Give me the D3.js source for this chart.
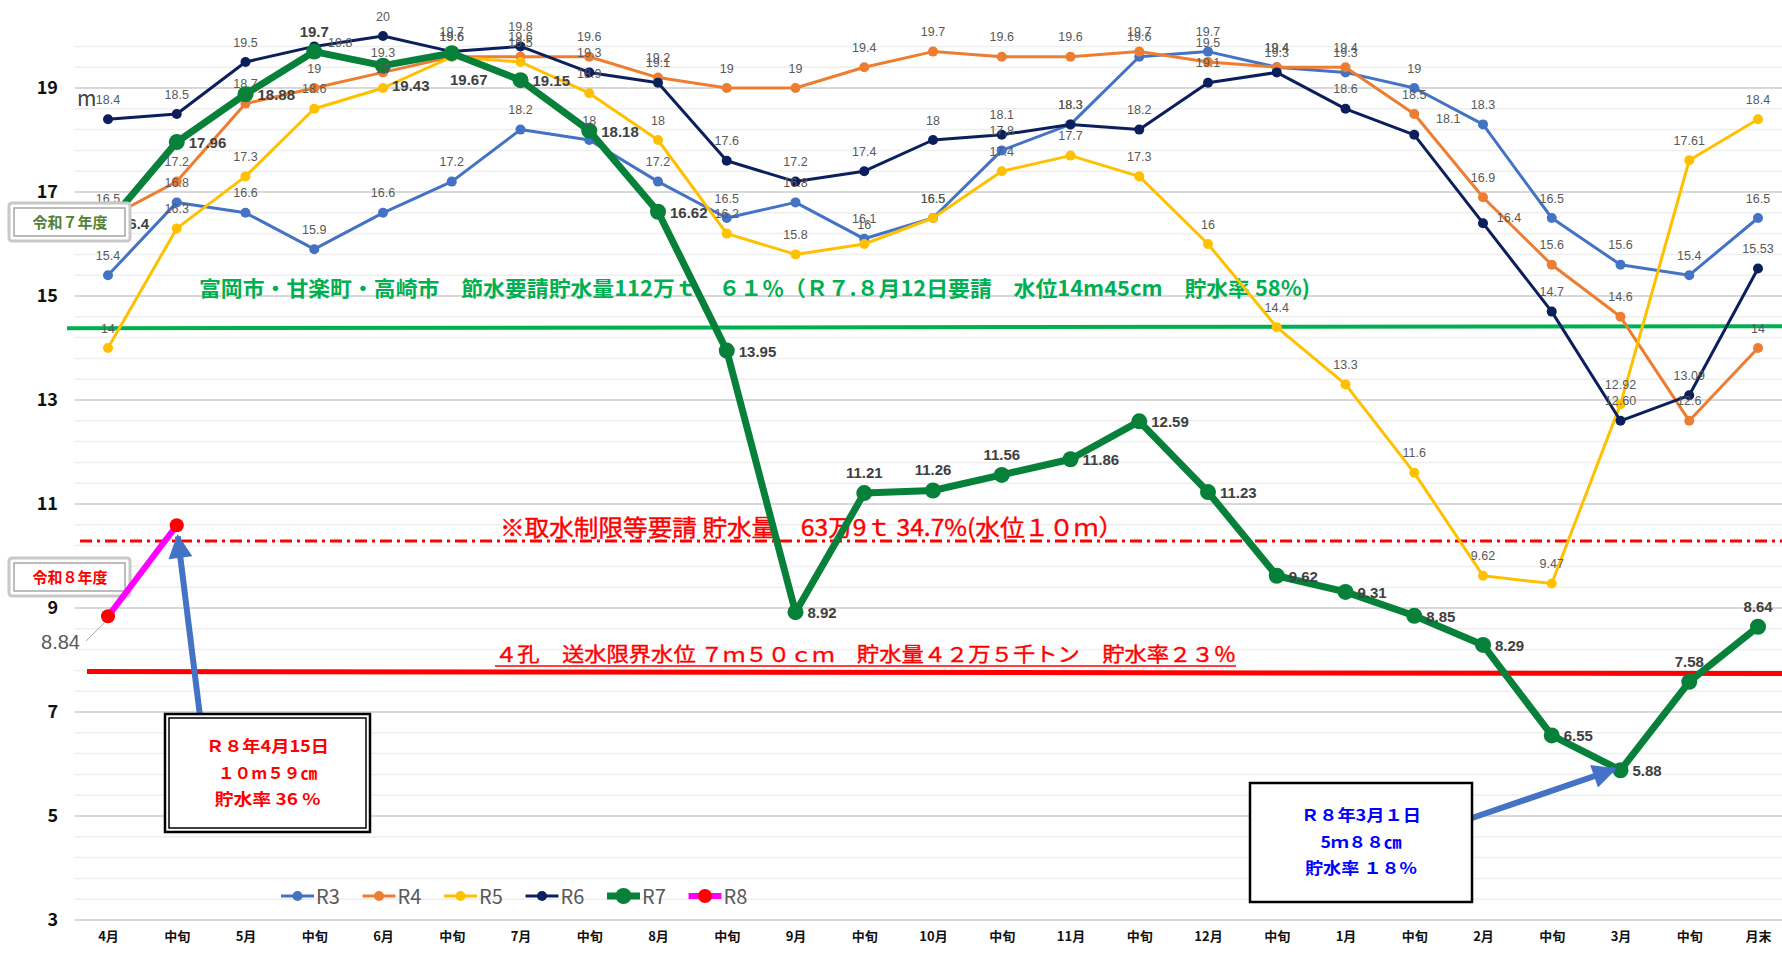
<!DOCTYPE html>
<html>
<head>
<meta charset="utf-8">
<script src="https://cdn.jsdelivr.net/npm/d3@7"></script>
<style>
  body { margin: 0; background: #fff; }
  svg { display: block; font-family: "Noto Sans CJK JP", "Noto Sans", sans-serif; }
</style>
</head>
<body>
<div id="chart"></div>
<script>
// 区分（旬ごと）
const periods = ["4月","中旬","5月","中旬","6月","中旬","7月","中旬","8月","中旬","9月","中旬",
                 "10月","中旬","11月","中旬","12月","中旬","1月","中旬","2月","中旬","3月","中旬","月末"];

// 水位 (m)
const r3 = [15.4,16.8,16.6,15.9,16.6,17.2,18.2,18,17.2,16.5,16.8,16.1,16.5,17.8,18.3,19.6,19.7,19.4,19.3,19,18.3,16.5,15.6,15.4,16.5];
const r4 = [16.5,17.2,18.7,19,19.3,19.6,19.6,19.6,19.2,19,19,19.4,19.7,19.6,19.6,19.7,19.5,19.4,19.4,18.5,16.9,15.6,14.6,12.6,14];
const r5 = [14,16.3,17.3,18.6,19,19.6,19.5,18.9,18,16.2,15.8,16,16.5,17.4,17.7,17.3,16,14.4,13.3,11.6,9.62,9.47,12.92,17.61,18.4];
const r6 = [18.4,18.5,19.5,19.8,20,19.7,19.8,19.3,19.1,17.6,17.2,17.4,18,18.1,18.3,18.2,19.1,19.3,18.6,18.1,16.4,14.7,12.6,13.09,15.53];
const r7 = [16.4,17.96,18.88,19.7,19.43,19.67,19.15,18.18,16.62,13.95,8.92,11.21,11.26,11.56,11.86,12.59,11.23,9.62,9.31,8.85,8.29,6.55,5.88,7.58,8.64];
const r8 = [8.84,10.59];

const r7LabelSide = ["r","r","r","t","rb","b","r","r","r","r","r","t","t","t","r","r","r","r","r","r","r","r","r","t","t"];

const yTicks = [3,5,7,9,11,13,15,17,19];

const width = 1782, height = 956;

const svg = d3.select("#chart").append("svg")
    .attr("width", width).attr("height", height);

const x = d3.scaleLinear().domain([0, periods.length - 1]).range([108, 1758]);
const y = d3.scaleLinear().domain([3, 20]).range([920, 36]);

// grid
const minor = d3.range(3, 19.85, 0.4);
svg.append("g").selectAll("line").data(minor).enter().append("line")
    .attr("x1", 75).attr("x2", width)
    .attr("y1", d => y(d)).attr("y2", d => y(d))
    .attr("stroke", "#eeeeee").attr("stroke-width", 1.5);
svg.append("g").selectAll("line").data(yTicks).enter().append("line")
    .attr("x1", 75).attr("x2", width)
    .attr("y1", d => y(d)).attr("y2", d => y(d))
    .attr("stroke", "#d9d9d9").attr("stroke-width", 2);

// axes
const yAxis = svg.append("g").attr("transform", "translate(58,0)")
    .call(d3.axisLeft(y).tickValues(yTicks).tickSize(0).tickPadding(0).tickFormat(d3.format("d")));
yAxis.select(".domain").remove();
yAxis.selectAll("text")
    .style("font-family", "'Noto Sans CJK JP', sans-serif")
    .style("font-size", "18px").style("font-weight", "bold").attr("fill", "#111");

const xAxis = svg.append("g").attr("transform", "translate(0,932)")
    .call(d3.axisBottom(x).tickValues(d3.range(periods.length)).tickSize(0).tickPadding(0)
        .tickFormat(i => periods[i]));
xAxis.select(".domain").remove();
xAxis.selectAll("text")
    .style("font-family", "'Noto Sans CJK JP', sans-serif")
    .style("font-size", "13px").style("font-weight", "bold").attr("fill", "#111");

svg.append("text").attr("x", 77).attr("y", 106).attr("fill", "#404040")
    .style("font-size", "21px").text("m");

// 基準線
svg.append("line").attr("x1", 67).attr("x2", width)
    .attr("y1", y(14.38)).attr("y2", y(14.42))
    .attr("stroke", "#00b050").attr("stroke-width", 4);
svg.append("text").attr("x", 199).attr("y", 296)
    .attr("fill", "#00b050").style("font-size", "21px").style("font-weight", "bold")
    .attr("textLength", 1111).attr("lengthAdjust", "spacingAndGlyphs")
    .text("富岡市・甘楽町・高崎市　節水要請貯水量112万ｔ　６１％（Ｒ７.８月12日要請　水位14m45cm　貯水率 58%)");

svg.append("line").attr("x1", 80).attr("x2", width)
    .attr("y1", y(10.29)).attr("y2", y(10.29))
    .attr("stroke", "#ff0000").attr("stroke-width", 3)
    .attr("stroke-dasharray", "12,5,3,5");
svg.append("text").attr("x", 500).attr("y", 536)
    .attr("fill", "#ff0000").style("font-size", "23px")
    .attr("stroke", "#ff0000").attr("stroke-width", 0.4)
    .attr("textLength", 623).attr("lengthAdjust", "spacingAndGlyphs")
    .text("※取水制限等要請 貯水量　63万9ｔ 34.7%(水位１０ｍ）");

svg.append("line").attr("x1", 87).attr("x2", width)
    .attr("y1", y(7.78)).attr("y2", y(7.74))
    .attr("stroke", "#ff0000").attr("stroke-width", 5);
svg.append("text").attr("x", 495).attr("y", 662)
    .attr("fill", "#ff0000").style("font-size", "20px")
    .attr("stroke", "#ff0000").attr("stroke-width", 0.4)
    .attr("textLength", 741).attr("lengthAdjust", "spacingAndGlyphs")
    .text("４孔　送水限界水位 ７ｍ５０ｃｍ　貯水量４２万５千トン　貯水率２３％");
svg.append("line").attr("x1", 495).attr("x2", 1236).attr("y1", 666).attr("y2", 666)
    .attr("stroke", "#ff0000").attr("stroke-width", 1.5);

// series
const series = [
  {name: "R3", values: r3, color: "#4472c4", w: 3, r: 5},
  {name: "R4", values: r4, color: "#ed7d31", w: 3, r: 5},
  {name: "R5", values: r5, color: "#ffc000", w: 3, r: 5},
  {name: "R6", values: r6, color: "#0b1f5c", w: 3, r: 5},
  {name: "R7", values: r7, color: "#07803a", w: 7, r: 8},
  {name: "R8", values: r8, color: "#ff00ff", w: 6, r: 7, dot: "#ff0000"}
];

const line = d3.line().x((d, i) => x(i)).y(d => y(d));

// 令和７年度 / 令和８年度 boxes
function yearBox(top, label, color) {
  const g = svg.append("g");
  g.append("rect").attr("x", 9).attr("y", top).attr("width", 121).attr("height", 38)
    .attr("rx", 3).attr("fill", "#fff").attr("stroke", "#c8c8c8").attr("stroke-width", 3);
  g.append("rect").attr("x", 14).attr("y", top + 5).attr("width", 111).attr("height", 28)
    .attr("fill", "none").attr("stroke", "#a6a6a6").attr("stroke-width", 1.5);
  g.append("text").attr("x", 70).attr("y", top + 25).attr("text-anchor", "middle")
    .attr("fill", color).style("font-size", "15px").style("font-weight", "bold").text(label);
}

series.slice(0, 4).forEach(s => {
  svg.append("path").datum(s.values).attr("d", line)
    .attr("fill", "none").attr("stroke", s.color).attr("stroke-width", s.w)
    .attr("stroke-linejoin", "round");
  svg.append("g").selectAll("circle").data(s.values).enter().append("circle")
    .attr("cx", (d, i) => x(i)).attr("cy", d => y(d)).attr("r", s.r).attr("fill", s.color);
});

const s7 = series[4];
svg.append("path").datum(r7).attr("d", line)
  .attr("fill", "none").attr("stroke", s7.color).attr("stroke-width", s7.w)
  .attr("stroke-linejoin", "round");
svg.append("g").selectAll("circle").data(r7).enter().append("circle")
  .attr("cx", (d, i) => x(i)).attr("cy", d => y(d)).attr("r", s7.r).attr("fill", s7.color);

// data labels for R3..R6
const lblShift = {"R6-3": [26, 16], "R6-19": [34, 4], "R6-20": [26, 14]};
const lblText = {"R6-22": "12.60"};
series.slice(0, 4).forEach(s => {
  svg.append("g").selectAll("text").data(s.values).enter().append("text")
    .attr("x", (d, i) => x(i) + ((lblShift[s.name + "-" + i] || [0, 0])[0]))
    .attr("y", (d, i) => y(d) - 15.5 + ((lblShift[s.name + "-" + i] || [0, 0])[1]))
    .attr("text-anchor", "middle")
    .attr("fill", "#595959")
    .style("font-family", "'Liberation Sans', Arial, sans-serif")
    .style("font-size", "12.5px")
    .text((d, i) => lblText[s.name + "-" + i] || d);
});

// R7 labels
svg.append("g").selectAll("text").data(r7).enter().append("text")
  .attr("x", (d, i) => {
    const p = r7LabelSide[i];
    if (p === "r") return x(i) + 12;
    if (p === "rb") return x(i) + 9;
    if (p === "b") return x(i) + 17;
    return x(i);
  })
  .attr("y", (d, i) => {
    const p = r7LabelSide[i];
    if (p === "r") return y(d) + 6;
    if (p === "rb") return y(d) + 25;
    if (p === "b") return y(d) + 32;
    return y(d) - 15;
  })
  .attr("text-anchor", (d, i) => (r7LabelSide[i] === "r" || r7LabelSide[i] === "rb") ? "start" : "middle")
  .attr("fill", "#404040")
  .style("font-family", "'Liberation Sans', Arial, sans-serif")
  .style("font-size", "15px").style("font-weight", "bold")
  .text(d => d);

yearBox(203, "令和７年度", "#548235");
yearBox(558, "令和８年度", "#ff0000");

// R8
const s8 = series[5];
svg.append("path").datum(r8).attr("d", line)
  .attr("fill", "none").attr("stroke", s8.color).attr("stroke-width", s8.w);
svg.append("g").selectAll("circle").data(r8).enter().append("circle")
  .attr("cx", (d, i) => x(i)).attr("cy", d => y(d)).attr("r", s8.r).attr("fill", s8.dot);
svg.append("line").attr("x1", 86).attr("y1", 641).attr("x2", x(0) - 3).attr("y2", y(r8[0]) + 6)
  .attr("stroke", "#a6a6a6").attr("stroke-width", 1);
svg.append("text").attr("x", 80).attr("y", 649).attr("text-anchor", "end")
  .attr("fill", "#595959").style("font-family", "'Liberation Sans', Arial, sans-serif")
  .style("font-size", "20px").text(r8[0]);

// arrows
const defs = svg.append("defs");
defs.append("marker").attr("id", "ah").attr("viewBox", "0 0 10 10")
  .attr("refX", 9).attr("refY", 5).attr("markerWidth", 4.2).attr("markerHeight", 4)
  .attr("orient", "auto").attr("markerUnits", "strokeWidth")
  .append("path").attr("d", "M0,0 L10,5 L0,10 Z").attr("fill", "#4472c4");

svg.append("line").attr("x1", 200).attr("y1", 716)
  .attr("x2", x(1) + 1).attr("y2", y(r8[1]) + 11)
  .attr("stroke", "#4472c4").attr("stroke-width", 6).attr("marker-end", "url(#ah)");
svg.append("line").attr("x1", 1472).attr("y1", 818)
  .attr("x2", x(22) - 6).attr("y2", y(r7[22]) - 1)
  .attr("stroke", "#4472c4").attr("stroke-width", 6).attr("marker-end", "url(#ah)");

// 注記ボックス
function noteBox(x0, y0, w, h, lines, color, dbl, widths) {
  const g = svg.append("g");
  g.append("rect").attr("x", x0).attr("y", y0).attr("width", w).attr("height", h)
    .attr("fill", "#fff").attr("stroke", "#000").attr("stroke-width", 2.5);
  if (dbl) {
    g.append("rect").attr("x", x0 + 4).attr("y", y0 + 4).attr("width", w - 8).attr("height", h - 8)
      .attr("fill", "none").attr("stroke", "#000").attr("stroke-width", 1.5);
  }
  lines.forEach((t, k) => {
    g.append("text").attr("x", x0 + w / 2 - widths[k] / 2).attr("y", y0 + 38 + k * 26.5)
      .attr("fill", color).style("font-size", "16px").style("font-weight", "bold")
      .attr("textLength", widths[k]).attr("lengthAdjust", "spacingAndGlyphs")
      .text(t);
  });
}
noteBox(165, 714, 205, 118, ["Ｒ８年4月15日", "１０m５９㎝", "貯水率 36 %"], "#ff0000", true, [123, 99, 106]);
noteBox(1250, 783, 222, 119, ["Ｒ８年3月１日", "5ｍ８８㎝", "貯水率 １８%"], "#0000ff", false, [120, 81, 112]);

// legend
const legend = svg.append("g").attr("transform", "translate(281,896)");
series.forEach((s, k) => {
  const g = legend.append("g").attr("transform", `translate(${k * 81.5},0)`);
  g.append("line").attr("x1", 0).attr("x2", 33).attr("y1", 0).attr("y2", 0)
    .attr("stroke", s.color).attr("stroke-width", s.w);
  g.append("circle").attr("cx", 16.5).attr("cy", 0).attr("r", s.r).attr("fill", s.dot || s.color);
  g.append("text").attr("x", 35).attr("y", 7.5).attr("fill", "#595959")
    .style("font-size", "20px").text(s.name);
});
</script>
</body>
</html>
